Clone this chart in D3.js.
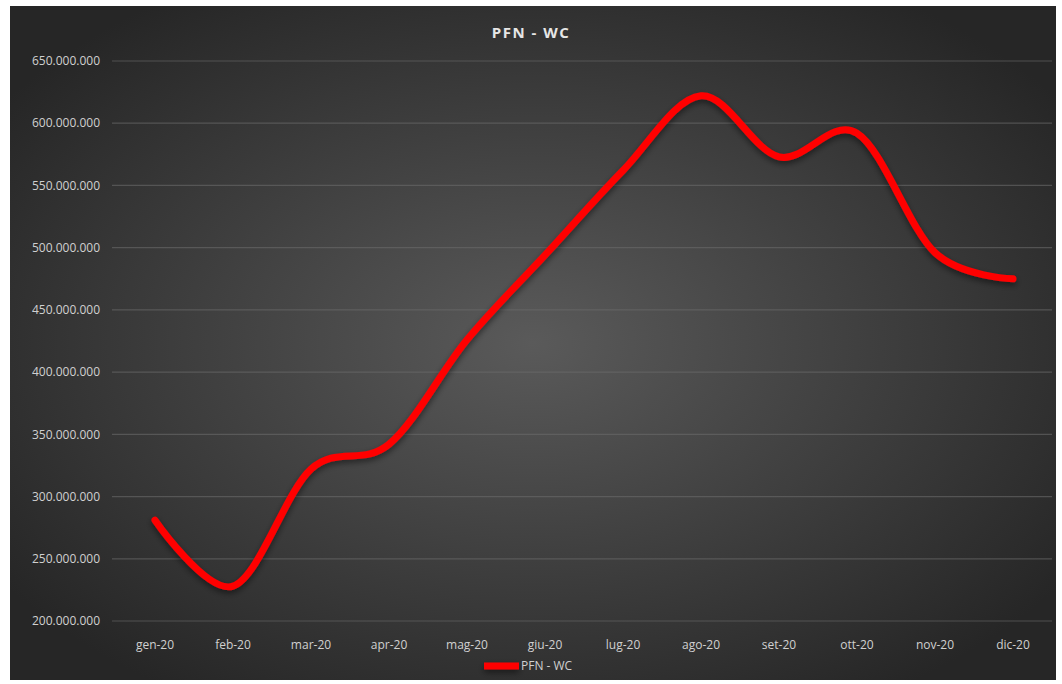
<!DOCTYPE html>
<html><head><meta charset="utf-8">
<script src="https://cdn.jsdelivr.net/npm/d3@7"></script>
<style>body{margin:0;background:#fff;}svg{display:block;font-family:"Open Sans","Noto Sans",sans-serif;}</style>
</head><body><svg id="c" width="1062" height="684"></svg>
<script>
const categories = ["gen-20","feb-20","mar-20","apr-20","mag-20","giu-20","lug-20","ago-20","set-20","ott-20","nov-20","dic-20"];
const values = [281000000,228000000,322000000,342000000,426000000,494000000,562000000,622000000,573000000,592000000,496000000,475000000];
const yTicks = [200000000,250000000,300000000,350000000,400000000,450000000,500000000,550000000,600000000,650000000];
const seriesName = "PFN - WC";
const title = "PFN - WC";

const svg = d3.select("#c");
const defs = svg.append("defs");
const g = defs.append("radialGradient").attr("id","bg").attr("cx","50%").attr("cy","50%").attr("r","62%");
g.append("stop").attr("offset","0%").attr("stop-color","#5a5a5a");
g.append("stop").attr("offset","100%").attr("stop-color","#262626");
const f = defs.append("filter").attr("id","sh").attr("filterUnits","userSpaceOnUse")
  .attr("x",0).attr("y",0).attr("width",1062).attr("height",684);
f.append("feGaussianBlur").attr("in","SourceAlpha").attr("stdDeviation","3").attr("result","b");
f.append("feOffset").attr("in","b").attr("dx","0").attr("dy","3").attr("result","o");
f.append("feComponentTransfer").attr("in","o").attr("result","o2").append("feFuncA").attr("type","linear").attr("slope","0.5");
const fm = f.append("feMerge"); fm.append("feMergeNode").attr("in","o2"); fm.append("feMergeNode").attr("in","SourceGraphic");

svg.append("rect").attr("x",10).attr("y",6).attr("width",1046).attr("height",674).attr("fill","url(#bg)");

const x = d3.scaleBand().domain(categories).range([116,1052]);
const y = d3.scaleLinear().domain([200000000,650000000]).range([621,61]);
const fmt = v => d3.format(",")(v).replace(/,/g,".");

svg.append("g").selectAll("line").data(yTicks).join("line")
  .attr("x1",112).attr("x2",1052).attr("y1",d=>y(d)).attr("y2",d=>y(d))
  .attr("stroke","#6a6a6a").attr("stroke-opacity",0.6).attr("stroke-width",1.2);

svg.append("g").selectAll("text").data(yTicks).join("text")
  .attr("x",100).attr("y",d=>y(d)).attr("dy","0.35em").attr("text-anchor","end")
  .attr("fill","#d0d0d0").attr("font-size",12).text(fmt);

svg.append("g").selectAll("text").data(categories).join("text")
  .attr("x",d=>x(d)+x.bandwidth()/2).attr("y",645).attr("dy","0.35em").attr("text-anchor","middle")
  .attr("fill","#d0d0d0").attr("font-size",12).text(d=>d);

const line = d3.line().x((d,i)=>x(categories[i])+x.bandwidth()/2).y(d=>y(d)).curve(d3.curveCardinal.tension(0));
svg.append("path").datum(values).attr("d",line).attr("fill","none")
  .attr("stroke","#ff0000").attr("stroke-width",7).attr("stroke-linecap","round").attr("stroke-linejoin","round")
  .attr("filter","url(#sh)");

svg.append("text").attr("x",531).attr("y",33).attr("dy","0.35em").attr("text-anchor","middle")
  .attr("fill","#e6e6e6").attr("font-size",15).attr("font-weight","bold").attr("letter-spacing","1.5").text(title);

svg.append("line").attr("x1",484).attr("x2",519).attr("y1",666).attr("y2",666)
  .attr("stroke","#ff0000").attr("stroke-width",7).attr("filter","url(#sh)");
svg.append("text").attr("x",521).attr("y",666).attr("dy","0.35em").attr("fill","#d0d0d0").attr("font-size",12).text(seriesName);
</script></body></html>
